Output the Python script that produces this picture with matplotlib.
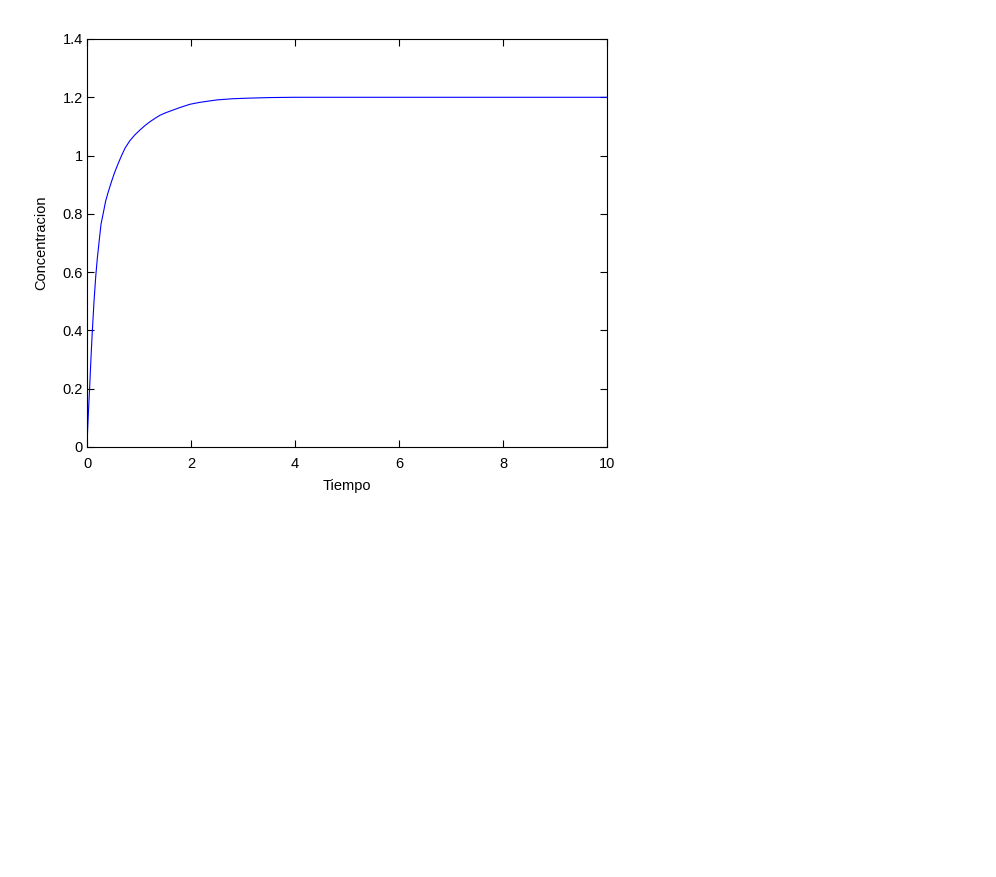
import matplotlib
matplotlib.use("Agg")
import matplotlib.pyplot as plt

# values
tiempo = [0, 0.01, 0.03, 0.05, 0.075, 0.10, 0.135, 0.17, 0.20, 0.23, 0.27, 0.31,
          0.36, 0.41, 0.47, 0.525, 0.60, 0.66, 0.73, 0.82, 0.92, 1.02, 1.115,
          1.21, 1.31, 1.40, 1.50, 1.65, 1.79, 1.98, 2.15, 2.30, 2.50, 2.80,
          3.10, 3.50, 4.0, 6.0, 8.0, 10.0]
concentracion = [0, 0.05, 0.13, 0.20, 0.30, 0.39, 0.50, 0.59, 0.65, 0.70, 0.765, 0.80,
                 0.845, 0.876, 0.91, 0.939, 0.973, 0.998, 1.025, 1.05, 1.071, 1.088, 1.103,
                 1.116, 1.128, 1.138, 1.146, 1.156, 1.165, 1.176, 1.182, 1.186, 1.191, 1.195,
                 1.197, 1.199, 1.2, 1.2, 1.2, 1.2]

plt.rcParams['font.family'] = ['Liberation Sans', 'DejaVu Sans']
plt.rcParams['font.size'] = 10.5

fig = plt.figure(figsize=(9.96, 8.77), dpi=100)
ax = fig.add_axes([87 / 996, 1 - 447 / 877, 520 / 996, 408 / 877])
ax.plot(tiempo, concentracion, color=(0, 0, 1), linewidth=0.8)

ax.set_xlim(0, 10)
ax.set_ylim(0, 1.4)
ax.set_xticks([0, 2, 4, 6, 8, 10])
ax.set_yticks([0, 0.2, 0.4, 0.6, 0.8, 1, 1.2, 1.4])
ax.set_yticklabels(["0", "0.2", "0.4", "0.6", "0.8", "1", "1.2", "1.4"])
ax.tick_params(direction="in", length=5, width=0.8, top=True, right=True)
ax.tick_params(axis="x", pad=7)
ax.tick_params(axis="y", pad=3)
for s in ax.spines.values():
    s.set_linewidth(0.8)
ax.set_xlabel("Tiempo", labelpad=6)
ax.set_ylabel("Concentracion", labelpad=10)

fig.savefig("out.png", dpi=100)
